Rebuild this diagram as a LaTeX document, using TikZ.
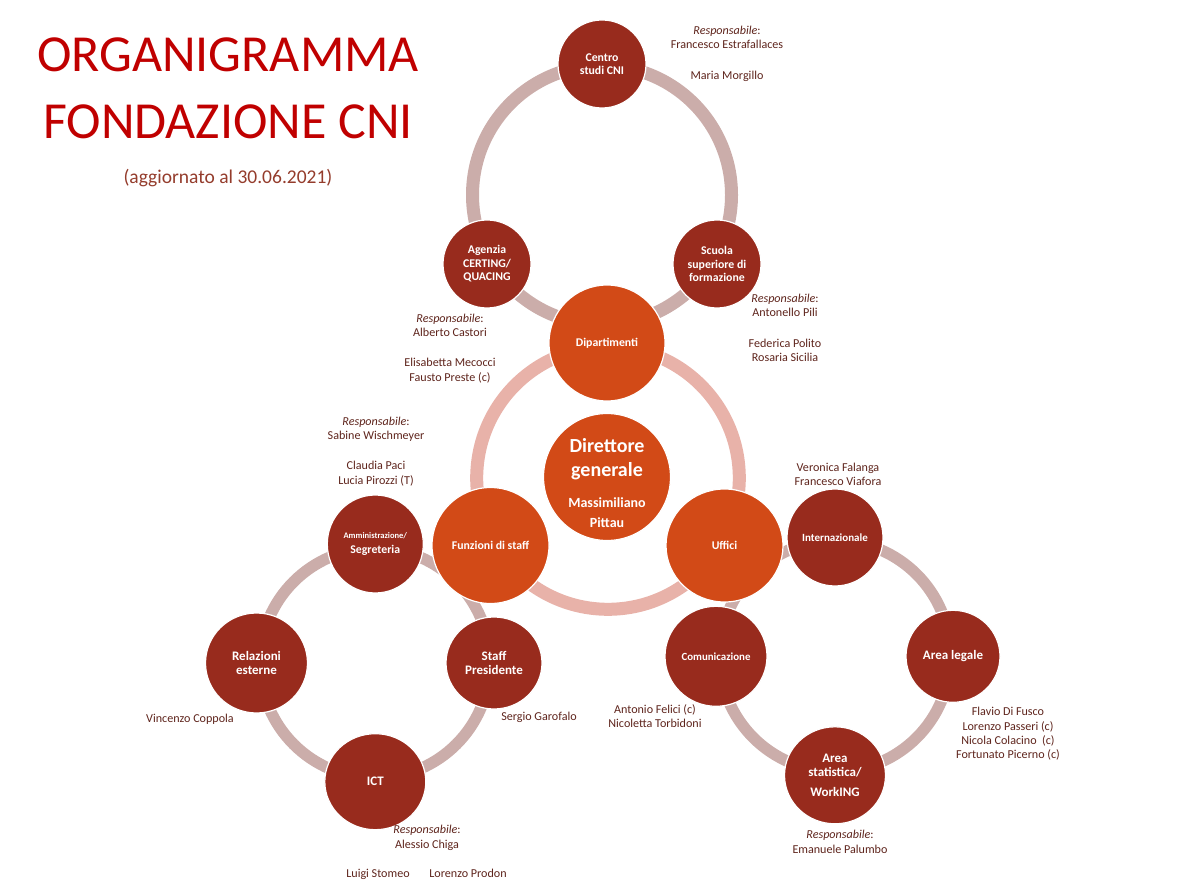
\documentclass[tikz,border=0pt]{standalone}
\usepackage{fontspec}
\usetikzlibrary{shapes.geometric}
\setmainfont{Carlito}
\definecolor{dark}{HTML}{982B1D}
\definecolor{orange}{HTML}{D24A17}
\definecolor{ringA}{HTML}{CBADAA}
\definecolor{ringB}{HTML}{E8B2A9}
\definecolor{title}{HTML}{C00000}
\definecolor{sub}{HTML}{943C2C}
\definecolor{names}{HTML}{5E241C}
\tikzset{
  hub/.style={ellipse,fill=#1,draw=white,line width=1.2pt,inner sep=0pt,text=white,align=center,font=\bfseries\fontsize{11.8}{13.5}\selectfont},
  big/.style={font=\bfseries\fontsize{13}{14.2}\selectfont},
  ringline/.style={line width=#1},
  people/.style={text=names,align=center,inner sep=0pt,font=\fontsize{12.1}{14.4}\selectfont},
}
\begin{document}
\begin{tikzpicture}[x=1pt,y=-1pt]
\useasboundingbox (0,0) rectangle (1202,890);
\coordinate (ctop) at (602,195);
\coordinate (cmain) at (608,478);
\coordinate (cleft) at (375,663);
\coordinate (cright) at (835,656);
\draw[ringline=13pt,draw=ringA] (ctop) circle (129.5);
\draw[ringline=13pt,draw=ringB] (cmain) circle (131.3);
\draw[ringline=11.5pt,draw=ringA] (cleft) circle (115);
\draw[ringline=11.5pt,draw=ringA] (cright) circle (115.5);

\node[hub=dark,minimum width=88pt,minimum height=88pt] (centro) at (602,64) {Centro\\studi CNI};
\node[hub=dark,minimum width=88pt,minimum height=88pt] (agenzia) at (487,264) {Agenzia\\CERTING/\\QUACING};
\node[hub=dark,minimum width=88pt,minimum height=88pt] (scuola) at (717,264) {Scuola\\superiore di\\formazione};
\node[hub=orange,minimum width=116pt,minimum height=116pt] (dip) at (607,343) {Dipartimenti};
\node[hub=orange,circle,minimum size=127pt,font=\bfseries\fontsize{14}{17}\selectfont] (dir) at (607,477)
  {\rule{0pt}{26pt}\fontsize{20}{24}\selectfont Direttore\\[7pt]\fontsize{20}{24}\selectfont generale\\[14pt]\fontsize{14}{17}\selectfont Massimiliano\\[3pt]\fontsize{14}{17}\selectfont Pittau};
\node[hub=orange,minimum width=117pt,minimum height=116pt] (funz) at (490.5,545.5) {Funzioni di staff};
\node[hub=orange,minimum width=117pt,minimum height=113pt] (uffici) at (724.5,545.5) {Uffici};
\node[hub=dark,minimum width=96pt,minimum height=98pt] (amm) at (375.3,544) {\fontsize{8.5}{15}\selectfont Amministrazione/\\[1.5pt]Segreteria};
\node[hub=dark,minimum width=96pt,minimum height=92pt,big] (staff) at (494,663) {Staff\\Presidente};
\node[hub=dark,minimum width=101pt,minimum height=96pt,big] (ict) at (375.3,781.7) {ICT};
\node[hub=dark,minimum width=102pt,minimum height=100pt,big] (rel) at (256.5,663) {Relazioni\\esterne};
\node[hub=dark,minimum width=96pt,minimum height=97pt,font=\bfseries\fontsize{11}{14}\selectfont] (int) at (835,537.5) {Internazionale};
\node[hub=dark,minimum width=94pt,minimum height=92pt,big] (legale) at (953,656.3) {Area legale};
\node[hub=dark,minimum width=101pt,minimum height=97pt,big] (stat) at (835,775.3) {Area\\statistica/\\[5pt]WorkING};
\node[hub=dark,minimum width=102pt,minimum height=100pt,font=\bfseries\fontsize{10.9}{14}\selectfont] (com) at (716,656.3) {Comunicazione};

\node[anchor=center,text=title,font=\fontsize{52}{60}\selectfont] (t1) at (228,55) {ORGANIGRAMMA};
\node[anchor=center,text=title,font=\fontsize{52}{60}\selectfont] (t2) at (228,122) {FONDAZIONE CNI};
\node[anchor=center,text=sub,font=\fontsize{19.5}{24}\selectfont] (t3) at (228,178) {(aggiornato al 30.06.2021)};

\node[people,anchor=north] (p1) at (727,26) {\textit{Responsabile}:\\Francesco Estrafallaces\\[16pt]Maria Morgillo};
\node[people,anchor=north] (p2) at (785,293.7) {\textit{Responsabile}:\\Antonello Pili\\[16pt]Federica Polito\\Rosaria Sicilia};
\node[people,anchor=north] (p3) at (450,313.5) {\textit{Responsabile}:\\Alberto Castori\\[16pt]Elisabetta Mecocci\\Fausto Preste (c)};
\node[people,anchor=north] (p4) at (376,416.5) {\textit{Responsabile}:\\Sabine Wischmeyer\\[16pt]Claudia Paci\\Lucia Pirozzi (T)};
\node[people,anchor=north] (p5) at (838,462.5) {Veronica Falanga\\Francesco Viafora};
\node[people,anchor=north] (p6) at (190,714) {Vincenzo Coppola};
\node[people,anchor=north] (p7) at (539,712) {Sergio Garofalo};
\node[people,anchor=north] (p8) at (655,704.5) {Antonio Felici (c)\\Nicoletta Torbidoni};
\node[people,anchor=north] (p9) at (1008,707) {Flavio Di Fusco\\Lorenzo Passeri (c)\\Nicola Colacino~~(c)\\Fortunato Picerno (c)};
\node[people,anchor=north] (p10) at (840,830) {\textit{Responsabile}:\\Emanuele Palumbo};
\node[people,anchor=north] (p11) at (427,825) {\textit{Responsabile}:\\Alessio Chiga};
\node[people,anchor=north] (p12) at (378,869) {Luigi Stomeo};
\node[people,anchor=north] (p13) at (468,869) {Lorenzo Prodon};
\end{tikzpicture}
\end{document}
